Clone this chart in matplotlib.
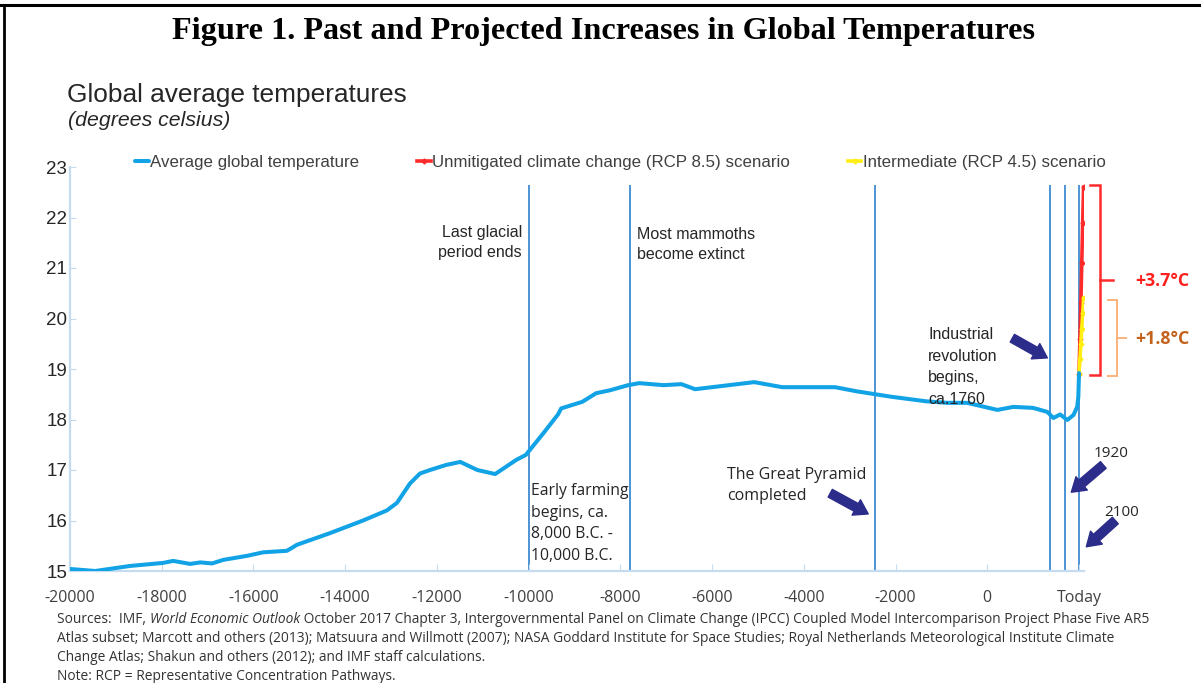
import matplotlib.pyplot as plt
import matplotlib.transforms as mtransforms
from matplotlib.lines import Line2D

# average global temperature
years = [-20000, -19450, -18690, -17970, -17750, -17380, -17160, -16900, -16660,
         -16140, -15790, -15270, -15050, -14330, -13610, -13090, -12870, -12590,
         -12370, -12150, -11800, -11490, -11120, -10730, -10270, -10060, -9660,
         -9360, -9290, -8830, -8530, -8220, -7830, -7590, -7060, -6670, -6370,
         -5910, -5080, -4470, -4010, -3320, -2860, -2090, -1330, -870, -440,
         220, 570, 1000, 1310, 1440, 1590, 1745, 1880, 1960, 1985, 2000]
avg_temp = [15.04, 15.0, 15.1, 15.16, 15.2, 15.14, 15.17, 15.15, 15.22,
            15.3, 15.37, 15.4, 15.52, 15.75, 16.0, 16.2, 16.35, 16.73,
            16.93, 17.0, 17.1, 17.16, 17.0, 16.92, 17.2, 17.3, 17.75,
            18.1, 18.22, 18.35, 18.52, 18.58, 18.68, 18.72, 18.68, 18.7, 18.6,
            18.65, 18.74, 18.64, 18.64, 18.64, 18.56, 18.45, 18.36, 18.33, 18.33,
            18.19, 18.25, 18.23, 18.15, 18.03, 18.1, 17.99, 18.09, 18.25, 18.45, 18.92]

# scenarios
proj_years = [2000, 2020, 2040, 2060, 2080, 2100]
rcp85 = [18.9, 19.6, 20.3, 21.1, 21.9, 22.6]
rcp45 = [18.9, 19.2, 19.5, 19.8, 20.1, 20.4]

event_years = [-10000, -7800, -2450, 1375, 1700, 2000]
event_top = 22.65

xticks = list(range(-20000, 2001, 2000))
xtick_labels = [str(v) for v in xticks[:-1]] + ["Today"]
yticks = list(range(15, 24))

W, H = 1201, 683
SANS = "Liberation Sans"
SEGOE = "Open Sans"
plt.rcParams["font.family"] = SANS
plt.rcParams["axes.unicode_minus"] = False

fig = plt.figure(figsize=(W / 100, H / 100), dpi=100)
ax = fig.add_axes([70 / W, 112 / H, 1013.6 / W, 404 / H])

blue = "#12a3e6"
ax.vlines(event_years, 15, event_top, color="#4d94d3", lw=1.4, zorder=1)
ax.plot(years, avg_temp, color=blue, lw=2.9, solid_capstyle="round", zorder=3,
        label="Average global temperature")
ax.plot(proj_years, rcp85, color="#ff2a2a", lw=2.6, marker="D", ms=2.5, zorder=2,
        label="Unmitigated climate change (RCP 8.5) scenario")
ax.plot(proj_years, rcp45, color="#ffee10", lw=2.6, marker="D", ms=2.5, zorder=2,
        label="Intermediate (RCP 4.5) scenario")

ax.set_xlim(-20000, 2100)
ax.set_ylim(15, 23)
ax.set_xticks(xticks)
ax.set_xticklabels(xtick_labels, family=SEGOE, fontsize=11.5, color="#404040")
ax.set_yticks(yticks)
ax.tick_params(axis="y", labelsize=13.5, labelcolor="#262626", direction="in",
               length=4, color="#c5dcf0", pad=2)
ax.tick_params(axis="x", direction="in", length=5, color="#c5dcf0", pad=14)
for side in ["top", "right"]:
    ax.spines[side].set_visible(False)
for side in ["left", "bottom"]:
    ax.spines[side].set_color("#c5dcf0")
    ax.spines[side].set_linewidth(1.6)

leg = fig.legend(loc="center left", bbox_to_anchor=(135 / W, (H - 162) / H),
                 ncol=3, frameon=False, fontsize=12.2, handlelength=0.8,
                 handletextpad=0.1, columnspacing=3.4, borderpad=0, borderaxespad=0)
for t in leg.get_texts():
    t.set_color("#404040")

# event labels
txt = "#262626"
ax.text(-10150, 21.85, "Last glacial\nperiod ends", ha="right", va="top",
        fontsize=11.5, color=txt, linespacing=1.4)
ax.text(-7640, 21.81, "Most mammoths\nbecome extinct", ha="left", va="top",
        fontsize=11.5, color=txt, linespacing=1.4)
ax.text(-9950, 16.74, "Early farming\nbegins, ca.\n8,000 B.C. -\n10,000 B.C.", ha="left",
        va="top", fontsize=11.3, color=txt, family=SEGOE, linespacing=1.46)
ax.text(-5670, 17.06, "The Great Pyramid\ncompleted", ha="left", va="top",
        fontsize=11.5, color=txt, family=SEGOE, linespacing=1.4)
ax.text(-1287, 19.83, "Industrial\nrevolution\nbegins,\nca.1760", ha="left", va="top",
        fontsize=11.5, color=txt, linespacing=1.55)
ax.text(2311, 17.33, "1920", ha="left", va="center", fontsize=11, color=txt, family=SEGOE)
ax.text(2551, 16.15, "2100", ha="left", va="center", fontsize=11, color=txt, family=SEGOE)

arrow = dict(arrowstyle="simple,head_length=0.7,head_width=0.9,tail_width=0.45",
             color="#2c2c8a", mutation_scale=14, shrinkA=0, shrinkB=0)
for tail, head in [((-3424, 16.54), (-2596, 16.13)),
                   ((546, 19.61), (1310, 19.22)),
                   ((2530, 17.1), (1832, 16.56)),
                   ((2792, 16.0), (2160, 15.48))]:
    ax.annotate("", xy=head, xytext=tail, arrowprops=arrow, annotation_clip=False)

# brackets on the right
br = mtransforms.blended_transform_factory(ax.transAxes, ax.transData)


def bracket(x0, x1, xm, y0, y1, ym, color, lw):
    ax.plot([x0, x1, x1, x0], [y1, y1, y0, y0], transform=br, clip_on=False,
            color=color, lw=lw, solid_joinstyle="miter")
    ax.plot([x1, xm], [ym, ym], transform=br, clip_on=False, color=color, lw=lw)


bracket(1.0063, 1.0162, 1.029, 18.88, 22.64, 20.76, "#ff2a2a", 1.8)
bracket(1.0241, 1.033, 1.0418, 18.86, 20.37, 19.61, "#f9b37a", 1.4)
ax.text(1.0507, 20.74, "+3.7°C", transform=br, ha="left", va="center",
        fontsize=12.8, fontweight="bold", color="#ff1f1f", family=SEGOE)
ax.text(1.0507, 19.59, "+1.8°C", transform=br, ha="left", va="center",
        fontsize=12.8, fontweight="bold", color="#c4621c", family=SEGOE)

# titles
fig.text(604 / W, 1 - 31 / H, "Figure 1. Past and Projected Increases in Global Temperatures",
         ha="center", va="center", family="Liberation Serif", fontweight="bold",
         fontsize=23.2, color="black")
fig.text(67 / W, 1 - 95 / H, "Global average temperatures", ha="left", va="center",
         fontsize=18.9, color="#262626")
fig.text(68 / W, 1 - 120 / H, "(degrees celsius)", ha="left", va="center",
         fontsize=15.3, style="italic", color="#262626")

# sources and note
src = dict(family=SEGOE, fontsize=9.9, color="#333333", va="bottom", ha="left")
t1 = fig.text(57 / W, 1 - 627 / H, "Sources:  IMF, ", **src)
p2 = ax.annotate("World Economic Outlook", xy=(1, 0), xycoords=t1, style="italic",
                 annotation_clip=False, **src)
ax.annotate(" October 2017 Chapter 3, Intergovernmental Panel on Climate Change (IPCC) "
            "Coupled Model Intercomparison Project Phase Five AR5",
            xy=(1, 0), xycoords=p2, annotation_clip=False, **src)
notes = ["Atlas subset; Marcott and others (2013); Matsuura and Willmott (2007); NASA Goddard "
         "Institute for Space Studies; Royal Netherlands Meteorological Institute Climate",
         "Change Atlas; Shakun and others (2012); and IMF staff calculations.",
         "Note: RCP = Representative Concentration Pathways."]
for i, line in enumerate(notes):
    fig.text(57 / W, 1 - (646 + 19 * i) / H, line, **src)

# page frame
fig.add_artist(Line2D([0, 1], [1 - 5 / H, 1 - 5 / H], color="black", lw=2.2))
fig.add_artist(Line2D([4 / W, 4 / W], [0, 1 - 5 / H], color="black", lw=2))

fig.savefig("out.png", dpi=100)
